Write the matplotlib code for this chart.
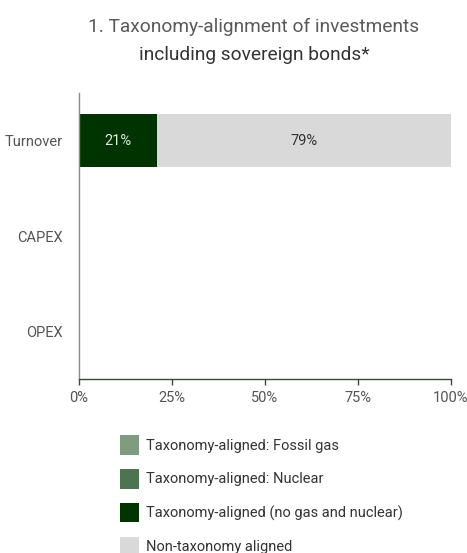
import matplotlib
matplotlib.use("Agg")
import matplotlib.pyplot as plt
import numpy as np

categories = ["Turnover", "CAPEX", "OPEX"]
fossil_gas = [0, 0, 0]
nuclear = [0, 0, 0]
aligned_other = [21, 0, 0]
non_aligned = [79, 0, 0]
series_labels = ["Taxonomy-aligned: Fossil gas", "Taxonomy-aligned: Nuclear",
                 "Taxonomy-aligned (no gas and nuclear)", "Non-taxonomy aligned"]
series_colors = ["#7f9c80", "#4d7350", "#013301", "#d9d9d9"]
text_colors = ["white", "white", "#e0e8e0", "#333333"]
x_ticks = [0, 25, 50, 75, 100]
x_ticklabels = ["0%", "25%", "50%", "75%", "100%"]

plt.rcParams['font.family'] = ['Roboto', 'DejaVu Sans']

fig = plt.figure(figsize=(4.67, 5.53), dpi=100)
ax = fig.add_axes([79/467, 1-379/553, (451-79)/467, (379-93)/553])

y = np.arange(len(categories))
left = np.zeros(len(categories))
series = [fossil_gas, nuclear, aligned_other, non_aligned]
for vals, lab, col, tcol in zip(series, series_labels, series_colors, text_colors):
    vals = np.array(vals, dtype=float)
    ax.barh(y, vals, left=left, height=0.56, color=col, label=lab, edgecolor='none')
    for yi, (l, v) in enumerate(zip(left, vals)):
        if v > 0:
            ax.text(l + v/2, yi, f"{v:.0f}%", ha='center', va='center',
                    color=tcol, fontsize=10.5)
    left = left + vals

ax.set_ylim(2.5, -0.5)
ax.set_xlim(0, 100)
ax.set_yticks(y)
ax.set_yticklabels(categories)
ax.set_xticks(x_ticks)
ax.set_xticklabels(x_ticklabels)
ax.tick_params(axis='y', length=0, pad=12, labelsize=10.5, labelcolor='#555555')
ax.tick_params(axis='x', length=4, width=1, color='#3a4a3a', pad=5, labelsize=10.5, labelcolor='#555555')
for s in ['top', 'right']:
    ax.spines[s].set_visible(False)
ax.spines['left'].set_color('#8a8a8a')
ax.spines['bottom'].set_color('#3a4a3a')
ax.spines['left'].set_linewidth(1)
ax.spines['bottom'].set_linewidth(1)

fig.text(254/467, 1-27/553, "1. Taxonomy-alignment of investments", ha='center', va='center',
         fontsize=13.8, color='#5a5a5a', fontweight='normal')
fig.text(254/467, 1-55/553, "including sovereign bonds*", ha='center', va='center',
         fontsize=13.8, color='#333333', fontweight='normal')

handles, labels = ax.get_legend_handles_labels()
leg = fig.legend(handles, labels, loc='upper left', bbox_to_anchor=(120/467, 1-435/553),
                 frameon=False, fontsize=10.5, handlelength=1.3, handleheight=1.7,
                 handletextpad=0.5, labelspacing=0.97, borderpad=0, borderaxespad=0)
for t in leg.get_texts():
    t.set_color('#333333')

fig.savefig("out.png", dpi=100)
